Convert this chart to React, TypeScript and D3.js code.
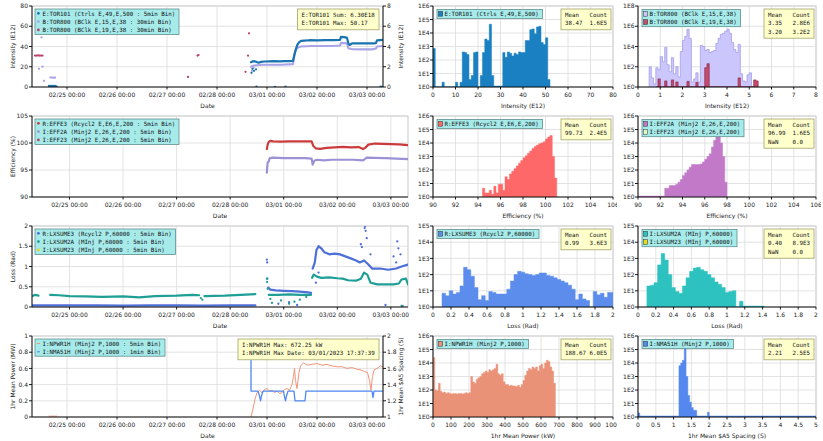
import * as d3 from 'd3';

type Pt = [number, number | null];

const W = 823;
const H = 441;
const DAY = 864e5;
const BASE = Date.UTC(2023, 1, 25); // 02/25 00:00, data below is in days from here
const T0 = -0.7;
const T1 = 6.32;
const ROW_TOP = [6, 116, 226, 336];
const PH = 81;
const L = 32;
const GRID = '#dcdcdc';
const MONO = '"DejaVu Sans Mono", monospace';
const SANS = '"DejaVu Sans", sans-serif';
const CW = 3.5; // mono char width at 5.8px

const toDate = (d: number) => new Date(BASE + d * DAY);

// ---------- row 1 : intensity ----------
const tor101Band: Pt[] = [
  [3.68, 24.5], [3.72, 25.5], [3.78, 25], [3.83, 24], [3.88, 24.8], [3.95, 25.2], [4.05, 25.3],
  [4.15, 25.5], [4.25, 25.4], [4.35, 25.6], [4.45, 25.5], [4.52, 25.8], [4.55, 32], [4.58, 38],
  [4.61, 42], [4.64, 44], [4.68, 45.5], [4.75, 45.8], [4.85, 46.2], [5.0, 46], [5.15, 46.3],
  [5.3, 46.2], [5.46, 46.5], [5.48, 49.5], [5.55, 49.3], [5.6, 48.5], [5.63, 42.5], [5.66, 41.5],
  [5.7, 43], [5.85, 43.2], [6.0, 43], [6.15, 43], [6.18, 43.5], [6.2, 46], [6.32, 46.5],
];
const tor101Spots: Pt[] = [
  [-0.36, 1], [-0.33, 1.2], [-0.3, 1], [-0.27, 1.1], [-0.24, 1], [-0.21, 0.6], [3.69, 14],
  [3.71, 18], [3.74, 16], [3.78, 17.5], [3.79, 0.3], [4.16, 0.2], [4.37, 0.3], [6.27, 0.3], [6.3, 0],
];
const tor800aBand: Pt[] = [
  [3.68, 2.0], [3.72, 2.1], [3.8, 2.15], [3.9, 2.2], [4.1, 2.2], [4.3, 2.2], [4.52, 2.25],
  [4.55, 3.3], [4.58, 3.7], [4.62, 3.9], [4.68, 4.0], [4.9, 4.05], [5.1, 4.05], [5.3, 4.05],
  [5.46, 4.1], [5.48, 4.35], [5.6, 4.3], [5.63, 3.8], [5.7, 3.75], [5.9, 3.72], [6.1, 3.72],
  [6.18, 3.8], [6.2, 4.0], [6.32, 4.05],
];
const tor800aSpots: Pt[] = [
  [-0.56, 1.8], [-0.51, 4.9], [-0.49, 2.0], [-0.46, 0.6], [-0.33, 0.95], [-0.3, 0.93],
  [-0.27, 0.92], [-0.24, 0.92], [3.7, 1.6], [3.73, 1.9],
];
const tor800bSpots: Pt[] = [
  [-0.64, 3.1], [-0.61, 3.1], [-0.58, 3.12], [-0.55, 3.1], [-0.52, 3.1], [-0.49, 3.1],
  [2.42, 1.0], [2.61, 3.1], [2.63, 3.15], [3.57, 1.5], [3.62, 3.1], [3.64, 5.3],
];

// ---------- row 2 : efficiency ----------
const effe3Band: Pt[] = [
  [3.685, 98.9], [3.7, 99.7], [3.72, 100.2], [3.75, 100.4], [3.8, 100.3], [3.95, 100.25],
  [4.1, 100.3], [4.25, 100.3], [4.4, 100.3], [4.52, 100.3], [4.55, 99.5], [4.6, 99.0],
  [4.68, 98.9], [4.8, 99.1], [4.95, 99.2], [5.1, 99.3], [5.25, 99.2], [5.4, 99.25], [5.48, 98.9],
  [5.52, 99.1], [5.58, 99.7], [5.7, 99.9], [5.85, 99.85], [6.0, 99.8], [6.15, 99.75], [6.32, 99.6],
];
const eff2aBand: Pt[] = [
  [3.685, 94.5], [3.69, 95.3], [3.7, 96.4], [3.72, 96.6], [3.74, 97.2], [3.8, 97.3], [4.0, 97.2],
  [4.2, 97.2], [4.4, 97.2], [4.52, 97.1], [4.54, 96.0], [4.57, 96.7], [4.62, 96.9], [4.75, 96.8],
  [4.9, 96.9], [5.1, 96.9], [5.3, 96.9], [5.48, 96.8], [5.55, 97.3], [5.7, 97.25], [5.9, 97.2],
  [6.1, 97.1], [6.32, 97.0],
];

// ---------- row 3 : loss ----------
const lxsume3Band: Pt[] = [
  [-0.7, 0.04], [0, 0.04], [0.5, 0.04], [1, 0.035], [1.5, 0.04], [2, 0.04], [2.5, 0.035], [3, 0.04],
  [3.47, 0.04], [3.47, null], [3.71, 0.48], [3.75, 0.43], [3.85, 0.41], [4.0, 0.4], [4.15, 0.39],
  [4.3, 0.38], [4.45, 0.36], [4.51, 0.35], [4.51, null], [4.54, 0.95], [4.58, 1.1], [4.61, 1.4],
  [4.65, 1.5], [4.7, 1.45], [4.76, 1.35], [4.85, 1.3], [4.95, 1.32], [5.05, 1.3], [5.15, 1.25],
  [5.25, 1.2], [5.35, 1.15], [5.42, 1.1], [5.5, 1.15], [5.58, 1.05], [5.65, 0.95], [5.8, 0.95],
  [5.95, 0.92], [6.1, 0.95], [6.2, 1.0], [6.32, 1.05],
];
const lxsume3Spots: Pt[] = [
  [3.685, 1.17], [3.69, 1.1], [3.695, 0.7], [3.9, 0.08], [4.1, 0.12], [4.25, 0.05], [4.6, 0.6],
  [4.65, 0.85], [5.44, 1.55], [5.46, 1.48], [5.51, 1.95], [5.52, 2.0], [5.53, 1.88], [5.55, 1.7],
  [5.62, 1.3], [5.9, 0.05], [6.05, 1.25], [6.1, 1.1], [6.12, 1.62], [6.14, 1.45], [6.18, 1.3], [6.22, 0.03],
];
const lxsum2aBand: Pt[] = [
  [-0.7, 0.27], [-0.64, 0.3], [-0.58, 0.28], [-0.58, null], [-0.36, 0.3], [-0.2, 0.29], [0, 0.27],
  [0.3, 0.26], [0.6, 0.25], [1.0, 0.26], [1.3, 0.24], [1.6, 0.27], [2.0, 0.28], [2.3, 0.3],
  [2.42, 0.29], [2.42, null], [2.52, 0.27], [2.9, 0.28], [3.2, 0.3], [3.47, 0.32], [3.47, null],
  [3.72, 0.3], [3.9, 0.3], [4.1, 0.31], [4.3, 0.3], [4.51, 0.3], [4.51, null], [4.53, 0.72],
  [4.56, 0.8], [4.62, 0.75], [4.7, 0.72], [4.85, 0.73], [5.0, 0.71], [5.1, 0.7], [5.2, 0.66],
  [5.35, 0.65], [5.44, 0.7], [5.5, 0.85], [5.56, 0.8], [5.62, 0.6], [5.75, 0.56], [5.9, 0.56],
  [6.05, 0.56], [6.15, 0.58], [6.2, 0.68], [6.28, 0.7], [6.32, 0.56],
];
const lxsum2aSpots: Pt[] = [
  [3.685, 0.7], [3.69, 0.62], [3.7, 0.45], [3.75, 0.2], [3.78, 0.1], [3.95, 0.16], [4.1, 0.08],
  [4.2, 0.13], [4.3, 0.18], [4.42, 0.25], [2.45, 0.22], [2.48, 0.18], [6.2, 0.03],
];

// ---------- row 4 : power / spacing ----------
const npwr1hLine: Pt[] = [
  [-0.36, 0.01], [-0.2, 0.01], [-0.2, null], [3.68, 0], [3.72, 0.1], [3.76, 0.22], [3.8, 0.3],
  [3.85, 0.33], [3.9, 0.3], [3.95, 0.34], [4.0, 0.35], [4.05, 0.32], [4.1, 0.33], [4.15, 0.3],
  [4.2, 0.32], [4.25, 0.29], [4.3, 0.3], [4.35, 0.34], [4.4, 0.35], [4.45, 0.33], [4.5, 0.4],
  [4.53, 0.5], [4.55, 0.6], [4.57, 0.45], [4.6, 0.35], [4.64, 0.55], [4.67, 0.63], [4.73, 0.67],
  [4.8, 0.64], [4.9, 0.65], [5.0, 0.66], [5.1, 0.64], [5.2, 0.65], [5.3, 0.63], [5.4, 0.62],
  [5.5, 0.62], [5.6, 0.6], [5.7, 0.61], [5.8, 0.59], [5.88, 0.58], [5.95, 0.56], [6.01, 0.55],
  [6.05, 0.45], [6.08, 0.33], [6.11, 0.5], [6.14, 0.58], [6.2, 0.6], [6.27, 0.63], [6.32, 0.62],
];
const nma51hLine: Pt[] = [
  [3.68, 1.7], [3.68, 1.32], [3.82, 1.32], [3.85, 1.26], [3.87, 1.2], [3.89, 1.26], [3.92, 1.32],
  [4.33, 1.32], [4.35, 1.25], [4.37, 1.2], [4.39, 1.26], [4.42, 1.32], [4.54, 1.32], [4.56, 1.2],
  [4.76, 1.2], [4.78, 1.32], [6.1, 1.32], [6.12, 1.24], [6.14, 1.32], [6.32, 1.32],
];

// ---------- histograms (log10 of counts per bin) ----------
const tor101Hist = [
  2.85, 0, 0, 0, 0.35, 0, 0, 0, 0, 0, 0.35, 0, 0.35, 2.6, 2.55, 2.4, 0.55, 0.85, 2.55, 2.6, 0, 0.85,
  2.55, 3.55, 3.45, 4.65, 0.85, 0, 0, 0, 0, 2.55, 2.2, 2.6, 2.5, 2.3, 2.5, 2.4, 2.6, 2.55, 2.55, 3.45,
  3.45, 4.25, 4.3, 3.95, 4.45, 4.5, 3.3, 3.15, 3.65, 0.55,
];
const tor800aHist = [
  2.0, 0.9, 0.3, 1.9, 1.7, 3.0, 2.5, 3.9, 2.2, 1.5, 2.9, 1.3, 2.0, 1.0, 3.5, 4.6, 5.0, 5.7, 4.8, 0.5,
  0.8, 1.4, 0.5, 4.1, 4.0, 3.6, 3.7, 3.4, 3.5, 3.6, 4.3, 4.8, 5.2, 5.3, 5.5, 5.7, 5.3, 4.4, 3.7, 3.4,
  4.2, 1.3, 0.6, 0.5, 1.2, 1.4,
];
const tor800bHist = [
  0, 0.8, 0, 0, 0.6, 0, 0, 0.7, 0, 0.5, 0, 0, 0, 0, 0.55, 0, 0, 0, 0.45, 0, 0, 0, 1.9, 2.3, 0, 0, 0,
  0, 0, 0, 0, 0, 0, 0, 0, 0, 0, 0.9, 0, 0, 0, 0, 0, 0, 0.7, 0.6,
];
const effe3Hist = [
  0.65, 0.3, 0.3, 0.5, 0.2, 0.8, 0.3, 0.95, 0.95, 0.5, 1.5, 1.3, 1.7, 1.9, 2.1, 2.3, 2.5, 2.7, 2.9,
  3.05, 3.25, 3.4, 3.6, 3.75, 3.85, 3.95, 4.0, 4.1, 4.3, 4.45, 4.55, 3.0, 1.4,
];
const eff2aHist = [
  0.65, 0.65, 0.85, 0.85, 0.85, 0.95, 1.1, 1.3, 1.6, 1.8, 2.0, 2.2, 2.4, 2.4, 2.4, 2.4, 2.45, 2.6,
  2.8, 3.0, 3.2, 3.7, 4.2, 4.65, 4.5, 4.0, 3.0, 1.1,
];
const lxsume3Hist = [
  0.85, 0.7, 1.0, 0.8, 0.9, 1.3, 2.45, 2.3, 1.9, 1.2, 0.45, 0.7, 0.4, 0.95, 0.9, 0.8, 0.8, 0.8, 1.1,
  1.6, 2.0, 2.2, 2.15, 2.05, 2.0, 1.95, 2.0, 2.1, 2.1, 1.95, 1.9, 1.8, 1.7, 1.6, 1.5, 1.35, 1.1, 0.45,
  0.8, 0.5, 0.4, 0, 0.95, 0.75, 0.85, 0.6, 0.9, 0.9,
];
const lxsum2aHist = [
  1.3, 1.35, 1.5, 2.6, 3.3, 2.9, 2.0, 1.2, 0.95, 0.85, 1.3, 1.8, 2.2, 2.4, 2.45, 2.3, 2.2, 2.0, 1.8,
  1.55, 1.4, 1.2, 0.9, 0.95, 1.0, 0, 0.35,
];
const npwr1hHist = [
  4.4, 2.0, 1.95, 2.5, 1.9, 1.8, 1.85, 1.75, 1.8, 1.75, 1.7, 1.75, 1.75, 1.7, 1.75, 1.75, 1.7, 1.75,
  1.8, 1.75, 1.8, 3.0, 2.6, 2.5, 2.8, 2.9, 3.0, 3.2, 3.3, 3.4, 3.3, 3.5, 3.4, 3.5, 3.6, 3.9, 3.2, 3.1,
  3.2, 2.6, 2.4, 2.4, 2.3, 2.35, 2.3, 2.3, 2.25, 2.35, 2.2, 2.4, 2.7, 3.1, 3.4, 3.6, 3.5, 3.7, 3.6,
  3.7, 3.4, 3.8, 3.9, 3.6, 4.0, 4.2, 4.1, 3.7, 3.4, 2.5,
];
const nma51hHist = [
  0.3, 0, 0, 0, 0, 0, 0, 0, 0, 0, 0, 0, 0, 0, 0, 0, 0, 0, 0, 0, 0, 0, 0, 3.8, 4.0, 4.2, 5.3, 3.0, 1.6,
  1.1, 0.7, 0.5, 0.5, 0, 0, 0, 0, 0, 0, 0.35,
];

const dayFmt = d3.utcFormat('%m/%d %H:%M');
const numFmt = (v: number) => String(Math.round(v * 100) / 100);

type LegendItem = { label: string; color: string; kind: 'dot' | 'line' | 'box'; edge?: string };

function Legend({ x, y, items }: { x: number; y: number; items: LegendItem[] }) {
  const n = d3.max(items, (d) => d.label.length) ?? 0;
  const w = 9 + n * CW + 2;
  const h = items.length * 8.3 + 0.6;
  return (
    <g>
      <rect x={x} y={y} width={w} height={h} fill="#a6eaea" stroke="#5f8f8f" strokeWidth={0.8} />
      {items.map((it, i) => {
        const cy = y + 4.5 + i * 8.3;
        return (
          <g key={i}>
            {it.kind === 'dot' && <circle cx={x + 3.4} cy={cy - 0.2} r={1.4} fill={it.color} />}
            {it.kind === 'line' && (
              <line x1={x + 2} x2={x + 5} y1={cy} y2={cy} stroke={it.color} strokeWidth={1} />
            )}
            {it.kind === 'box' && (
              <rect x={x + 1.5} y={cy - 2.6} width={4.2} height={4.8} fill={it.color}
                stroke={it.edge ?? '#333'} strokeWidth={0.5} />
            )}
            <text x={x + 7.5} y={cy + 2.1} fontFamily={MONO} fontSize={5.8} fill="#111">
              {it.label}
            </text>
          </g>
        );
      })}
    </g>
  );
}

function NoteBox({ right, y, lines, cols }: { right: number; y: number; lines?: string[]; cols?: string[][] }) {
  let w: number;
  let nLines: number;
  const c1 = cols ? Math.max((d3.max(cols, (r) => r[0].length) ?? 0) + 1, 7) : 0;
  if (cols) {
    const c2 = d3.max(cols, (r) => r[1].length) ?? 0;
    w = 4 + c1 * CW + c2 * CW + 4;
    nLines = cols.length;
  } else {
    w = (d3.max(lines ?? [], (s) => s.length) ?? 0) * CW + 8;
    nLines = (lines ?? []).length;
  }
  const x = right - w;
  const h = nLines * 8.4 + 4;
  const col2 = x + 4 + c1 * CW;
  return (
    <g>
      <rect x={x} y={y} width={w} height={h} fill="#ffffcc" stroke="#a3a36b" strokeWidth={0.8} />
      {cols
        ? cols.map((r, i) => (
            <g key={i} fontFamily={MONO} fontSize={5.8} fill="#111">
              <text x={x + 4} y={y + 8 + i * 8.4}>{r[0]}</text>
              <text x={col2} y={y + 8 + i * 8.4}>{r[1]}</text>
            </g>
          ))
        : (lines ?? []).map((s, i) => (
            <text key={i} x={x + 4} y={y + 8 + i * 8.4} fontFamily={MONO} fontSize={5.8} fill="#111">
              {s}
            </text>
          ))}
    </g>
  );
}

type TS = { color: string; axis: 'L' | 'R'; band?: Pt[]; spots?: Pt[]; width?: number };

type TimeProps = {
  id: string;
  top: number;
  right: number;
  yL: [number, number];
  ticksL: number[];
  titleL: string;
  yR?: [number, number];
  ticksR?: number[];
  titleR?: string;
  series: TS[];
  legend: LegendItem[];
  note?: string[];
};

function TimePanel(p: TimeProps) {
  const top = p.top;
  const bottom = top + PH;
  const x = d3.scaleUtc().domain([toDate(T0), toDate(T1)]).range([L, p.right]);
  const yl = d3.scaleLinear().domain(p.yL).range([bottom, top]);
  const yr = p.yR ? d3.scaleLinear().domain(p.yR).range([bottom, top]) : yl;
  const days = x.ticks(d3.utcDay.every(1)!);
  const clip = `clip-${p.id}`;
  return (
    <g>
      <defs>
        <clipPath id={clip}>
          <rect x={L} y={top} width={p.right - L} height={PH} />
        </clipPath>
      </defs>
      <rect x={L} y={top} width={p.right - L} height={PH} fill="#fff" stroke="#b8b8b8" strokeWidth={0.8} />
      {days.map((d) => (
        <line key={+d} x1={x(d)} x2={x(d)} y1={top} y2={bottom} stroke={GRID} strokeWidth={0.8} />
      ))}
      {p.ticksL.map((v) => (
        <line key={v} x1={L} x2={p.right} y1={yl(v)} y2={yl(v)} stroke={GRID} strokeWidth={0.8} />
      ))}
      <g clipPath={`url(#${clip})`}>
        {p.series.map((s, i) => {
          const y = s.axis === 'R' ? yr : yl;
          const line = d3
            .line<Pt>()
            .defined((q) => q[1] != null)
            .x((q) => x(toDate(q[0])))
            .y((q) => y(q[1] as number));
          return (
            <g key={i}>
              {s.band && (
                <path d={line(s.band) ?? ''} fill="none" stroke={s.color} strokeWidth={s.width ?? 2.2}
                  strokeLinejoin="round" strokeLinecap="round" />
              )}
              {s.spots?.map((q, j) => (
                <circle key={j} cx={x(toDate(q[0]))} cy={y(q[1] as number)} r={1.15} fill={s.color} />
              ))}
            </g>
          );
        })}
      </g>
      <g stroke="#000" strokeWidth={0.9}>
        <line x1={L} x2={L} y1={top} y2={bottom} />
        <line x1={L} x2={p.right} y1={bottom} y2={bottom} />
        {p.yR && <line x1={p.right} x2={p.right} y1={top} y2={bottom} />}
        {p.ticksL.map((v) => (
          <line key={v} x1={L - 3} x2={L} y1={yl(v)} y2={yl(v)} />
        ))}
        {p.ticksR?.map((v) => (
          <line key={v} x1={p.right} x2={p.right + 3} y1={yr(v)} y2={yr(v)} />
        ))}
        {days.map((d) => (
          <line key={+d} x1={x(d)} x2={x(d)} y1={bottom} y2={bottom + 2.5} />
        ))}
      </g>
      <g fontFamily={SANS} fontSize={6} fill="#222">
        {p.ticksL.map((v) => (
          <text key={v} x={L - 4} y={yl(v)} dy="0.35em" textAnchor="end">{numFmt(v)}</text>
        ))}
        {p.ticksR?.map((v) => (
          <text key={v} x={p.right + 4} y={yr(v)} dy="0.35em">{numFmt(v)}</text>
        ))}
        {days.map((d) => (
          <text key={+d} x={x(d)} y={bottom + 9.5} textAnchor="middle">{dayFmt(d)}</text>
        ))}
        <text x={(L + p.right) / 2} y={bottom + 20.5} textAnchor="middle">Date</text>
        <text transform={`translate(13,${(top + bottom) / 2}) rotate(-90)`} textAnchor="middle" dy="0.35em">
          {p.titleL}
        </text>
        {p.titleR && (
          <text transform={`translate(${p.right + 17.5},${(top + bottom) / 2}) rotate(-90)`}
            textAnchor="middle" dy="0.35em">
            {p.titleR}
          </text>
        )}
      </g>
      <Legend x={35} y={top + 3} items={p.legend} />
      {p.note && <NoteBox right={p.right - 4} y={top + 3} lines={p.note} />}
    </g>
  );
}

type HistSeries = {
  start: number;
  width: number;
  logs: number[];
  fill: string;
  edge?: string;
  flat?: [number, number][];
};

type HistProps = {
  id: string;
  top: number;
  x0: number;
  x1: number;
  xDomain: [number, number];
  xStep: number;
  yMax: number;
  yStep: number;
  title: string;
  series: HistSeries[];
  legend: LegendItem[];
  stats: string[][];
  clipR: number;
};

function HistPanel(p: HistProps) {
  const top = p.top;
  const bottom = top + PH;
  const x = d3.scaleLinear().domain(p.xDomain).range([p.x0, p.x1]);
  const y = d3.scaleLog().domain([1, 10 ** p.yMax]).range([bottom, top]);
  const xt = d3.range(p.xDomain[0], p.xDomain[1] + p.xStep / 2, p.xStep);
  const yt = d3.range(0, p.yMax + 1, p.yStep);
  const clip = `hclip-${p.id}`;
  const pclip = `pclip-${p.id}`;
  return (
    <g clipPath={`url(#${pclip})`}>
      <defs>
        <clipPath id={clip}>
          <rect x={p.x0} y={top} width={p.x1 - p.x0} height={PH} />
        </clipPath>
        <clipPath id={pclip}>
          <rect x={p.x0 - 20} y={top - 6} width={p.clipR - p.x0 + 20} height={PH + 30} />
        </clipPath>
      </defs>
      <rect x={p.x0} y={top} width={p.x1 - p.x0} height={PH} fill="#fff" stroke="#b8b8b8" strokeWidth={0.8} />
      {xt.map((v) => (
        <line key={v} x1={x(v)} x2={x(v)} y1={top} y2={bottom} stroke={GRID} strokeWidth={0.8} />
      ))}
      {yt.map((e) => (
        <line key={e} x1={p.x0} x2={p.x1} y1={y(10 ** e)} y2={y(10 ** e)} stroke={GRID} strokeWidth={0.8} />
      ))}
      <g clipPath={`url(#${clip})`}>
        {p.series.map((s, si) => {
          const pts: [number, number][] = s.logs.map((v, i) => [s.start + i * s.width, v]);
          pts.push([s.start + s.logs.length * s.width, 0]);
          const area = d3
            .area<[number, number]>()
            .curve(d3.curveStepAfter)
            .x((d) => x(d[0]))
            .y0(bottom)
            .y1((d) => y(10 ** Math.max(0, d[1])));
          return (
            <g key={si}>
              {s.flat?.map((f, k) => (
                <line key={k} x1={x(f[0])} x2={x(f[1])} y1={bottom - 0.6} y2={bottom - 0.6}
                  stroke={s.edge ?? s.fill} strokeWidth={1.2} />
              ))}
              <path d={area(pts) ?? ''} fill={s.fill} stroke={s.edge ?? s.fill}
                strokeWidth={s.edge ? 0.7 : 0.5} />
            </g>
          );
        })}
      </g>
      <g stroke="#000" strokeWidth={0.9}>
        <line x1={p.x0} x2={p.x0} y1={top} y2={bottom} />
        <line x1={p.x0} x2={p.x1} y1={bottom} y2={bottom} />
        {yt.map((e) => (
          <line key={e} x1={p.x0 - 3} x2={p.x0} y1={y(10 ** e)} y2={y(10 ** e)} />
        ))}
        {xt.map((v) => (
          <line key={v} x1={x(v)} x2={x(v)} y1={bottom} y2={bottom + 2.5} />
        ))}
      </g>
      <g fontFamily={SANS} fontSize={6} fill="#222">
        {yt.map((e) => (
          <text key={e} x={p.x0 - 3.5} y={y(10 ** e)} dy="0.35em" textAnchor="end">{`1E${e}`}</text>
        ))}
        {xt.map((v) => (
          <text key={v} x={x(v)} y={bottom + 9.5} textAnchor="middle">{numFmt(v)}</text>
        ))}
        <text x={(p.x0 + p.x1) / 2} y={bottom + 20.5} textAnchor="middle">{p.title}</text>
      </g>
      <Legend x={p.x0 + 4} y={top + 3.5} items={p.legend} />
      <NoteBox right={p.x1 - 2} y={top + 3} cols={p.stats} />
    </g>
  );
}

const C = {
  tor101: '#1a74b0',
  tor101H: '#1a80c2',
  lav: '#aaa4e8',
  lavH: '#cbc6fb',
  lavEdge: '#9d95e6',
  crim: '#b8446a',
  crimH: '#c44a6e',
  red: '#cc3b3b',
  redH: '#ff6868',
  eff2a: '#9b92d6',
  purH: '#c27ac8',
  green: '#e2f8c8',
  blue: '#4d6fd8',
  blueH: '#5c8ded',
  teal: '#1f9e96',
  tealH: '#2dc2c0',
  yellow: '#e8d820',
  salmon: '#f0957a',
  salmonH: '#ea9278',
  sky: '#4f88f0',
  skyH: '#5588ee',
};

export default function App() {
  return (
    <svg width={W} height={H} style={{ position: 'absolute', left: 0, top: 0, background: '#fff' }}>
      <rect width={W} height={H} fill="#fff" />

      {/* row 1 */}
      <TimePanel
        id="t1" top={ROW_TOP[0]} right={383}
        yL={[0, 80]} ticksL={[0, 20, 40, 60, 80]} titleL="Intensity (E12)"
        yR={[0, 8]} ticksR={[0, 2, 4, 6, 8]} titleR="Intensity (E12)"
        series={[
          { color: C.lav, axis: 'R', band: tor800aBand, spots: tor800aSpots },
          { color: C.tor101, axis: 'L', band: tor101Band, spots: tor101Spots },
          { color: C.crim, axis: 'R', spots: tor800bSpots },
        ]}
        legend={[
          { label: 'E:TOR101 (Ctrls E,49,E,500 : 5min Bin)', color: C.tor101, kind: 'dot' },
          { label: 'B:TOR800 (BClk E,15,E,38 : 30min Bin)', color: C.lav, kind: 'dot' },
          { label: 'B:TOR800 (BClk E,19,E,38 : 30min Bin)', color: C.crim, kind: 'dot' },
        ]}
        note={['E:TOR101 Sum: 6.30E18', 'E:TOR101 Max: 50.17']}
      />
      <HistPanel
        id="h1a" top={ROW_TOP[0]} x0={433} x1={613} xDomain={[0, 80]} xStep={10} yMax={6} yStep={1}
        title="Intensity (E12)" clipR={617}
        series={[{ start: 0, width: 1, logs: tor101Hist, fill: C.tor101H, flat: [[27, 31]] }]}
        legend={[{ label: 'E:TOR101 (Ctrls E,49,E,500)', color: C.tor101H, kind: 'box' }]}
        stats={[['Mean', 'Count'], ['38.47', '1.6E5']]}
      />
      <HistPanel
        id="h1b" top={ROW_TOP[0]} x0={638} x1={816} xDomain={[0, 8]} xStep={1} yMax={8} yStep={2}
        title="Intensity (E12)" clipR={821}
        series={[
          { start: 0.5, width: 0.1, logs: tor800aHist, fill: C.lavH, edge: C.lavEdge },
          { start: 0.8, width: 0.1, logs: tor800bHist, fill: C.crimH, edge: '#8a2a4a' },
        ]}
        legend={[
          { label: 'B:TOR800 (BClk E,15,E,38)', color: C.lavH, kind: 'box' },
          { label: 'B:TOR800 (BClk E,19,E,38)', color: C.crimH, kind: 'box' },
        ]}
        stats={[['Mean', 'Count'], ['3.35', '2.8E6'], ['3.20', '3.2E2']]}
      />

      {/* row 2 */}
      <TimePanel
        id="t2" top={ROW_TOP[1]} right={408}
        yL={[90, 105]} ticksL={[90, 95, 100, 105]} titleL="Efficiency (%)"
        series={[
          { color: C.eff2a, axis: 'L', band: eff2aBand },
          { color: C.red, axis: 'L', band: effe3Band },
        ]}
        legend={[
          { label: 'R:EFFE3 (Rcycl2 E,E6,E,200 : 5min Bin)', color: C.red, kind: 'dot' },
          { label: 'I:EFF2A (Minj2 E,26,E,200 : 5min Bin)', color: C.eff2a, kind: 'dot' },
          { label: 'I:EFF23 (Minj2 E,26,E,200 : 5min Bin)', color: C.crim, kind: 'dot' },
        ]}
      />
      <HistPanel
        id="h2a" top={ROW_TOP[1]} x0={433} x1={613} xDomain={[90, 106]} xStep={2} yMax={6} yStep={1}
        title="Efficiency (%)" clipR={617}
        series={[{ start: 94.4, width: 0.2, logs: effe3Hist, fill: C.redH }]}
        legend={[{ label: 'R:EFFE3 (Rcycl2 E,E6,E,200)', color: C.redH, kind: 'box' }]}
        stats={[['Mean', 'Count'], ['99.73', '2.4E5']]}
      />
      <HistPanel
        id="h2b" top={ROW_TOP[1]} x0={638} x1={816} xDomain={[90, 106]} xStep={2} yMax={6} yStep={1}
        title="Efficiency (%)" clipR={821}
        series={[{ start: 92.4, width: 0.2, logs: eff2aHist, fill: C.purH, flat: [[90, 92.4]] }]}
        legend={[
          { label: 'I:EFF2A (Minj2 E,26,E,200)', color: C.purH, kind: 'box' },
          { label: 'I:EFF23 (Minj2 E,26,E,200)', color: C.green, kind: 'box' },
        ]}
        stats={[['Mean', 'Count'], ['96.99', '1.6E5'], ['NaN', '0.0']]}
      />

      {/* row 3 */}
      <TimePanel
        id="t3" top={ROW_TOP[2]} right={408}
        yL={[0, 2]} ticksL={[0, 0.5, 1, 1.5, 2]} titleL="Loss (Rad)"
        series={[
          { color: C.blue, axis: 'L', band: lxsume3Band, spots: lxsume3Spots },
          { color: C.teal, axis: 'L', band: lxsum2aBand, spots: lxsum2aSpots },
        ]}
        legend={[
          { label: 'R:LXSUME3 (Rcycl2 P,60000 : 5min Bin)', color: C.blue, kind: 'dot' },
          { label: 'I:LXSUM2A (MInj P,60000 : 5min Bin)', color: C.teal, kind: 'dot' },
          { label: 'I:LXSUM23 (MInj P,60000 : 5min Bin)', color: C.yellow, kind: 'dot' },
        ]}
      />
      <HistPanel
        id="h3a" top={ROW_TOP[2]} x0={433} x1={613} xDomain={[0, 2]} xStep={0.2} yMax={5} yStep={1}
        title="Loss (Rad)" clipR={617}
        series={[{ start: 0.1, width: 0.04, logs: lxsume3Hist, fill: C.blueH }]}
        legend={[{ label: 'R:LXSUME3 (Rcycl2 P,60000)', color: C.blueH, kind: 'box' }]}
        stats={[['Mean', 'Count'], ['0.99', '3.6E3']]}
      />
      <HistPanel
        id="h3b" top={ROW_TOP[2]} x0={638} x1={816} xDomain={[0, 2]} xStep={0.2} yMax={5} yStep={1}
        title="Loss (Rad)" clipR={821}
        series={[{ start: 0.1, width: 0.04, logs: lxsum2aHist, fill: C.tealH, flat: [[1.18, 1.42]] }]}
        legend={[
          { label: 'I:LXSUM2A (MInj P,60000)', color: C.tealH, kind: 'box' },
          { label: 'I:LXSUM23 (MInj P,60000)', color: C.yellow, kind: 'box' },
        ]}
        stats={[['Mean', 'Count'], ['0.40', '8.9E3'], ['NaN', '0.0']]}
      />

      {/* row 4 */}
      <TimePanel
        id="t4" top={ROW_TOP[3]} right={383}
        yL={[0, 1]} ticksL={[0, 0.2, 0.4, 0.6, 0.8, 1]} titleL="1hr Mean Power (MW)"
        yR={[1, 2]} ticksR={[1, 1.2, 1.4, 1.6, 1.8, 2]} titleR="1hr Mean $A5 Spacing (S)"
        series={[
          { color: C.salmon, axis: 'L', band: npwr1hLine, width: 1 },
          { color: C.sky, axis: 'R', band: nma51hLine, width: 1.3 },
        ]}
        legend={[
          { label: 'I:NPWR1H (Minj2 P,1000 : 5min Bin)', color: C.salmon, kind: 'line' },
          { label: 'I:NMA51H (Minj2 P,1000 : 1min Bin)', color: C.sky, kind: 'line' },
        ]}
        note={['I:NPWR1H Max: 672.25 kW', 'I:NPWR1H Max Date: 03/01/2023 17:37:39']}
      />
      <HistPanel
        id="h4a" top={ROW_TOP[3]} x0={433} x1={613} xDomain={[0, 1000]} xStep={100} yMax={6} yStep={1}
        title="1hr Mean Power (kW)" clipR={617}
        series={[{ start: 0, width: 10, logs: npwr1hHist, fill: C.salmonH }]}
        legend={[{ label: 'I:NPWR1H (Minj2 P,1000)', color: C.salmonH, kind: 'box' }]}
        stats={[['Mean', 'Count'], ['188.67', '6.0E5']]}
      />
      <HistPanel
        id="h4b" top={ROW_TOP[3]} x0={638} x1={816} xDomain={[0, 5]} xStep={0.5} yMax={6} yStep={1}
        title="1hr Mean $A5 Spacing (S)" clipR={821}
        series={[{ start: 0, width: 0.05, logs: nma51hHist, fill: C.skyH, flat: [[0, 5]] }]}
        legend={[{ label: 'I:NMA51H (Minj2 P,1000)', color: C.skyH, kind: 'box' }]}
        stats={[['Mean', 'Count'], ['2.21', '2.5E5']]}
      />
    </svg>
  );
}
